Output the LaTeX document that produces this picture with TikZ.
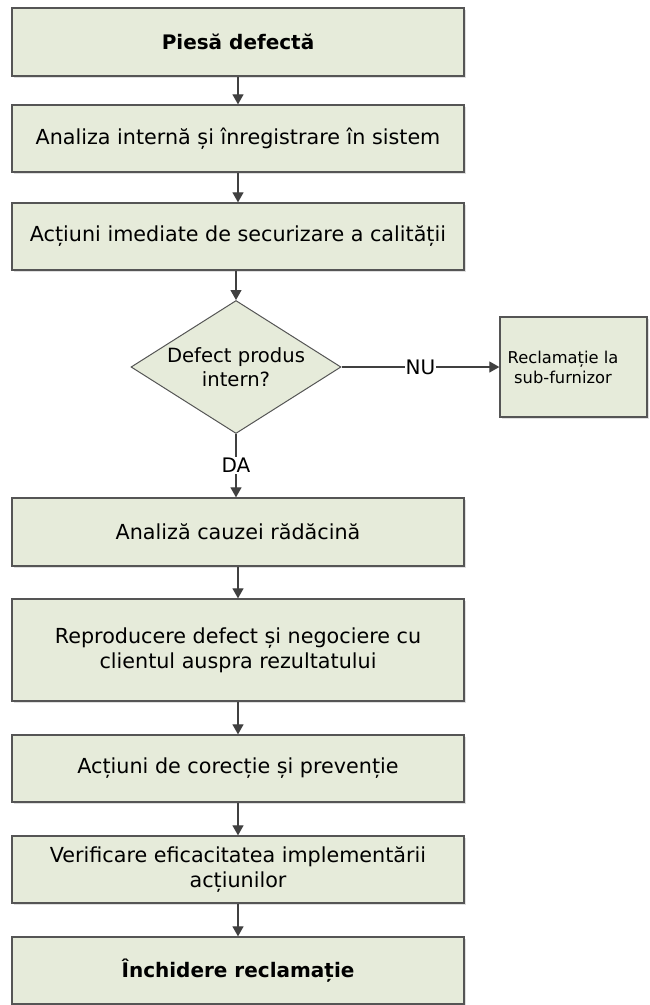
\documentclass[tikz,border=0pt]{standalone}
\usepackage{fontspec}
\setmainfont{DejaVu Sans}
\usetikzlibrary{arrows.meta,shapes.geometric,shadows}
\definecolor{boxfill}{RGB}{230,235,218}
\definecolor{boxline}{RGB}{85,85,85}
\definecolor{flowline}{RGB}{64,64,64}
\begin{document}
\begin{tikzpicture}[x=1pt,y=-1pt,
  stepbox/.style={draw=boxline,line width=1.3pt,fill=boxfill,rectangle,
    minimum width=452pt,align=center,inner sep=0pt,
    font=\fontsize{20.7}{25}\selectfont,
    drop shadow={shadow xshift=2pt,shadow yshift=-2pt,opacity=0.25,fill=gray}},
  titlebox/.style={stepbox,font=\fontsize{20}{25}\selectfont\bfseries},
  decision/.style={draw=boxline,line width=1pt,fill=boxfill,diamond,aspect=1.58,
    minimum width=210pt,minimum height=133pt,inner sep=0pt,align=center,
    font=\fontsize{19.6}{24}\selectfont},
  sidebox/.style={draw=boxline,line width=1.3pt,fill=boxfill,rectangle,
    minimum width=147pt,minimum height=100pt,inner sep=0pt,
    drop shadow={shadow xshift=2pt,shadow yshift=-2pt,opacity=0.25,fill=gray}},
  sidetext/.style={align=center,inner sep=0pt,font=\fontsize{16.3}{20}\selectfont},
  flow/.style={draw=flowline,line width=1.2pt,-{Triangle[width=11pt,length=10pt]}},
  branch/.style={fill=white,inner sep=1pt,font=\fontsize{20}{24}\selectfont}
]
\useasboundingbox (0,0) rectangle (649,1005);

\node[titlebox,minimum height=68pt] (b1) at (238,42) {Piesă defectă};
\node[stepbox,minimum height=67pt] (b2) at (238,138.5) {Analiza internă și înregistrare în sistem};
\node[stepbox,minimum height=67pt] (b3) at (238,236.5) {Acțiuni imediate de securizare a calității};
\node[decision] (d1) at (236,367) {Defect produs\\intern?};
\node[sidebox] (s1) at (573.5,367) {};
\node[sidetext] (s1text) at (563,367) {Reclamație la\\sub-furnizor};
\node[stepbox,minimum height=68pt] (b4) at (238,532) {Analiză cauzei rădăcină};
\node[stepbox,minimum height=102pt] (b5) at (238,650) {Reproducere defect și negociere cu\\clientul auspra rezultatului};
\node[stepbox,minimum height=67pt] (b6) at (238,768.5) {Acțiuni de corecție și prevenție};
\node[stepbox,minimum height=67pt] (b7) at (238,869.5) {Verificare eficacitatea implementării\\acțiunilor};
\node[titlebox,minimum height=67pt] (b8) at (238,970.5) {Închidere reclamație};

\draw[flow] (b1) -- (b2);
\draw[flow] (b2) -- (b3);
\draw[flow] (b3.south -| d1.north) -- (d1.north);
\draw[flow] (d1) -- node[branch] {NU} (s1);
\draw[flow] (d1.south) -- node[branch,pos=0.5] {DA} (d1.south |- b4.north);
\draw[flow] (b4) -- (b5);
\draw[flow] (b5) -- (b6);
\draw[flow] (b6) -- (b7);
\draw[flow] (b7) -- (b8);
\end{tikzpicture}
\end{document}
